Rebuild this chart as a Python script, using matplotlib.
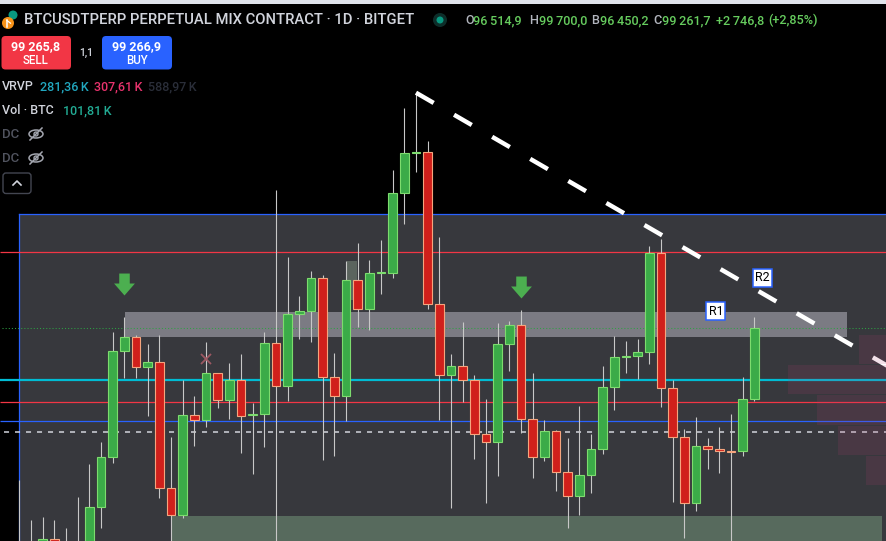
import numpy as np
import matplotlib
matplotlib.use("Agg")
import matplotlib.pyplot as plt
from matplotlib.patches import Rectangle, FancyBboxPatch, Circle, Ellipse
from matplotlib.path import Path

# daily candles (BTCUSDT perp)
opens = [88000, 90400, 87300, 91110, 90600, 89800, 90500, 92340, 94270, 98370,
         98930, 97750, 97950, 93070, 92030, 95900, 95700, 97520, 96480, 97250,
         95920, 95950, 98680, 97020, 99800, 99930, 101200, 97370, 96630, 101120,
         100000, 101390, 101410, 104490, 106030, 106070, 100190, 97440, 97790, 97270,
         95160, 94850, 98640, 99380, 95740, 94270, 95280, 93690, 92760, 93570,
         94580, 96980, 98150, 98180, 98330, 102190, 96940, 95050, 92490, 94700,
         94580, 94510, 94500, 96514.9]
highs = [93390, 91850, 91970, 91850, 91540, 92750, 94010, 94860, 99120, 99700,
         99000, 98650, 99000, 95060, 97260, 96640, 98730, 97530, 97920, 98270,
         96380, 99120, 104610, 102020, 100510, 101480, 101320, 98310, 101850, 102560,
         101890, 102680, 105390, 107790, 108380, 106510, 102790, 98270, 99510, 97460,
         96530, 99470, 99540, 99970, 97530, 95710, 95330, 95020, 96260, 95170,
         97800, 98960, 98770, 98850, 102460, 102720, 97260, 95380, 95830, 95020,
         95440, 95950, 97380, 99700.0]
lows = [86600, 87100, 87100, 90100, 88700, 89400, 90400, 91550, 94060, 97340,
        97340, 95880, 92710, 90800, 91910, 94720, 95450, 96190, 95760, 94450,
        93640, 94680, 90500, 96450, 98860, 98740, 94180, 94330, 95690, 99320,
        99210, 100600, 101220, 103310, 105320, 100020, 95730, 92320, 96420, 94220,
        92520, 93560, 97620, 95200, 93480, 94140, 92980, 91550, 92050, 92890,
        94410, 96110, 97540, 97290, 97890, 96230, 92550, 91160, 92210, 93830,
        93680, 89260, 94330, 96450.2]
closes = [90400, 87300, 91110, 90600, 89800, 90500, 92350, 94270, 98380, 98930,
          97750, 97950, 93070, 92030, 95900, 95700, 97520, 96480, 97250, 95880,
          95950, 98680, 97020, 99800, 99930, 101200, 97370, 96630, 101120, 100000,
          101390, 101410, 104490, 106030, 106060, 100190, 97440, 97790, 97270, 95160,
          94850, 98640, 99380, 95740, 94270, 95280, 93690, 92760, 93570, 94580,
          96980, 98140, 98180, 98330, 102190, 96940, 95050, 92490, 94700, 94580,
          94500, 94490, 96510, 99261.7]

# drawn levels / zones (price)
range_top = 103684
res_hi = 102202
supply_lo, supply_hi = 98937, 99892
last_price = 99261.7
pivot = 97262
sup_hi = 96398
sup_lo = 95663
mid_line = 95238
demand_top = 91999

trend_x = [34, 74.37]
trend_y = [108377, 97819]

arrow_idx = [9, 43]
arrow_price = [100976, 100852]

label_names = ["R1", "R2"]
label_idx = [59.7, 63.7]
label_price = [99931, 101208]

# visible range volume profile rows
vp_lo = [97892, 96731, 95532, 94371, 93211]
vp_hi = [99003, 97841, 96681, 95482, 94321]
vp_len = [2.37, 8.48, 6.0, 4.2, 1.8]

XL, XR = -1.654, 74.37
YB, YT = 91032.7, 111963.6

fig = plt.figure(figsize=(8.87, 5.41), dpi=100, facecolor="black")
ax = fig.add_axes([0, 0, 1, 1])
ax.set_xlim(XL, XR)
ax.set_ylim(YB, YT)
ax.set_axis_off()

# zones
ax.add_patch(Rectangle((0, YB), XR, range_top - YB, fc="#37383d", ec="none", zorder=0))
ax.plot([0, XR], [range_top, range_top], color="#2962ff", lw=0.9, zorder=1)
ax.plot([0, 0], [YB, range_top], color="#2962ff", lw=0.9, zorder=1)
ax.add_patch(Rectangle((13.1, YB), 73.94 - 13.1, demand_top - YB, fc="#576a5d", ec="none", zorder=0.5))
ax.add_patch(Rectangle((9.06, supply_lo), 70.95 - 9.06, supply_hi - supply_lo, fc="#7b7b83", ec="none", zorder=1))
ax.add_patch(Rectangle((28.06, 100355), 0.91, 101874 - 100355, fc="#5b645e", ec="none", zorder=1))

# horizontal lines
ax.hlines(res_hi, XL, XR, color="#f23645", lw=0.9, zorder=2)
ax.hlines(sup_hi, XL, XR, color="#f23645", lw=0.9, zorder=2)
ax.hlines(sup_lo, XL, XR, color="#2962ff", lw=0.9, zorder=2)
ax.hlines(pivot, XL, XR, color="#00bcd4", lw=1.6, zorder=2)
ax.plot([-1.3, XR], [mid_line] * 2, color="#d1d4dc", lw=1.1, ls=(0, (3.3, 3.9)), zorder=2)
ax.plot([-1.48, XR], [last_price] * 2, color="#2ea043", lw=0.75, ls=(0, (1, 2)), zorder=2)

# candles
x = np.arange(len(opens))
o = np.array(opens)
c = np.array(closes)
up = c >= o
body_lo = np.minimum(o, c)
body_h = np.maximum(np.abs(c - o), 35)
ax.vlines(x, lows, highs, color="#c8c8c8", lw=0.8, zorder=3)
ax.bar(x[up], body_h[up], bottom=body_lo[up], width=0.75, color="#3bab48",
       edgecolor="#7ddc6e", linewidth=0.8, zorder=4)
ax.bar(x[~up], body_h[~up], bottom=body_lo[~up], width=0.75, color="#d0201b",
       edgecolor="#f5a57e", linewidth=0.8, zorder=4)

# trend line
ax.plot(trend_x, trend_y, color="white", lw=3.2, ls=(0, (4.6, 5.3)),
        dash_capstyle="butt", zorder=5)

# volume profile
vp_lo = np.array(vp_lo)
vp_hi = np.array(vp_hi)
vp_len = np.array(vp_len)
ax.barh((vp_lo + vp_hi) / 2, vp_len, height=vp_hi - vp_lo, left=XR - vp_len,
        color="#b03a70", alpha=0.15, zorder=6)

# down arrows
arrow = Path([(-0.48, 1), (0.48, 1), (0.48, 0.09), (0.95, 0.09), (0, -1),
              (-0.95, 0.09), (-0.48, 0.09), (-0.48, 1)])
ax.plot(arrow_idx, arrow_price, ls="none", marker=arrow, ms=15.8,
        color="#4caf50", mec="none", zorder=5)

# hidden marks
ax.plot([15.98], [98074], marker="x", ms=7, mew=1.3, color="#9c5862", zorder=3)

fam = ["Roboto", "DejaVu Sans"]
W = "medium"

for name, xi, yi in zip(label_names, label_idx, label_price):
    ax.text(xi, yi, name, ha="center", va="center", fontsize=9, color="black",
            family=fam, bbox=dict(boxstyle="square,pad=0.18", fc="white", ec="#2962ff", lw=1.1),
            zorder=7)

# ---- legend / toolbar overlay (pixel coords)
ov = fig.add_axes([0, 0, 1, 1])
ov.set_xlim(0, 887)
ov.set_ylim(541, 0)
ov.set_axis_off()
ov.patch.set_alpha(0)

ov.add_patch(Rectangle((0, 0), 887, 4, fc="#e0e3eb", ec="none"))
ov.add_patch(Circle((13, 15), 4.5, fc="#089981"))
ov.add_patch(Circle((8, 23), 6, fc="#f7931a"))
ov.plot([7, 7], [20, 26.5], color="white", lw=1.1)
ov.plot([7, 10.5], [20.5, 23.2], color="white", lw=0.9)

ov.text(24, 20.5, "BTCUSDTPERP PERPETUAL MIX CONTRACT · 1D · BITGET", fontsize=10.6,
        color="#d1d4dc", va="center", family=fam, fontweight=W)
ov.add_patch(Circle((440, 20), 7, fc="#0d2e2a"))
ov.add_patch(Circle((440, 20), 3.5, fc="#089981"))

ohlc = [(465, 473.5, "O", "96\u2009514,9"), (529, 539, "H", "99\u2009700,0"),
        (591, 600.5, "B", "96\u2009450,2"), (653, 662.5, "C", "99\u2009261,7")]
for lx, vx, lab, val in ohlc:
    ov.text(lx, 20.5, lab, fontsize=9.1, color="#b2b5be", va="center", family=fam, fontweight=W)
    ov.text(vx, 20.5, val, fontsize=9.1, color="#66cc5e", va="center", family=fam, fontweight=W)
ov.text(716, 20.5, "+2\u2009746,8", fontsize=9.1, color="#66cc5e", va="center", family=fam, fontweight=W)
ov.text(768, 20.5, "(+2,85%)", fontsize=9.1, color="#66cc5e", va="center", family=fam, fontweight=W)

ov.add_patch(FancyBboxPatch((1.5, 36), 69.5, 33.5, boxstyle="round,pad=0,rounding_size=4",
                            fc="#f23645", ec="none"))
ov.add_patch(FancyBboxPatch((102, 36), 70, 33.5, boxstyle="round,pad=0,rounding_size=4",
                            fc="#2962ff", ec="none"))
ov.text(36, 46.5, "99 265,8", ha="center", va="center", fontsize=9, fontweight="bold",
        color="white", family=fam)
ov.text(36, 61, "SELL", ha="center", va="center", fontsize=8.3, color="white", family=fam, fontweight=W)
ov.text(137, 46.5, "99 266,9", ha="center", va="center", fontsize=9, fontweight="bold",
        color="white", family=fam)
ov.text(137, 61, "BUY", ha="center", va="center", fontsize=8.3, color="white", family=fam, fontweight=W)
ov.text(86.5, 53, "1,1", ha="center", va="center", fontsize=7.6, color="#d1d4dc", family=fam, fontweight=W)

ov.text(2, 86.5, "VRVP", fontsize=9, color="#d1d4dc", va="center", family=fam, fontweight=W)
ov.text(40, 86.5, "281,36\u2009K", fontsize=9, color="#22a8c0", va="center", family=fam, fontweight=W)
ov.text(94.5, 86.5, "307,61\u2009K", fontsize=9, color="#e8336d", va="center", family=fam, fontweight=W)
ov.text(148.5, 86.5, "588,97\u2009K", fontsize=9, color="#2a2e39", va="center", family=fam, fontweight=W)
ov.text(2, 110.5, "Vol · BTC", fontsize=9, color="#d1d4dc", va="center", family=fam, fontweight=W)
ov.text(63.5, 110.5, "101,81\u2009K", fontsize=9, color="#22ab94", va="center", family=fam, fontweight=W)

for yy in [134, 158]:
    ov.text(2, yy, "DC", fontsize=9.5, color="#50535e", va="center", family=fam, fontweight=W)
    ov.add_patch(Ellipse((36, yy), 14, 8, fc="none", ec="#a3a6af", lw=1.1))
    ov.add_patch(Circle((36, yy), 2, fc="none", ec="#a3a6af", lw=1))
    ov.plot([30, 42], [yy + 6, yy - 6], color="#a3a6af", lw=1.1)

ov.add_patch(FancyBboxPatch((3, 173), 28, 20.5, boxstyle="round,pad=0,rounding_size=3",
                            fc="none", ec="#434651", lw=1))
ov.plot([13, 17, 21], [185, 181, 185], color="#d1d4dc", lw=1.2)

fig.savefig("out.png", dpi=100, facecolor="black")
